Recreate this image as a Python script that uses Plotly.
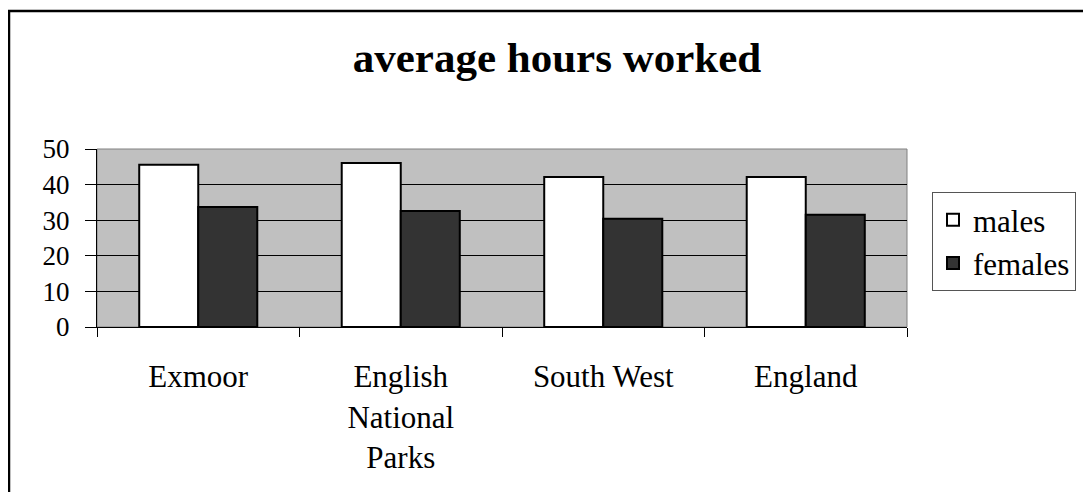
import plotly.graph_objects as go

# data
regions = ["Exmoor", "English National Parks", "South West", "England"]
region_labels = ["Exmoor", "English<br>National<br>Parks", "South West", "England"]
males = [45.6, 46.1, 42.1, 42.1]
females = [33.7, 32.6, 30.4, 31.5]
y_ticks = [0, 10, 20, 30, 40, 50]

# the page puts the figure 8px in from the top-left corner
OFF = 8
W, H = 1091 - OFF, 492 - OFF
L, R, T, B = 97 - OFF, 907 - OFF, 149 - OFF, 327 - OFF   # plot area in pixels


def px_x(p):
    return (p - OFF - L) / (R - L)


def px_y(p):
    return (B - (p - OFF)) / (B - T)


serif = "Liberation Serif"

fig = go.Figure()
fig.add_trace(go.Bar(x=regions, y=males, name="males",
                     marker=dict(color="white", line=dict(color="black", width=2))))
fig.add_trace(go.Bar(x=regions, y=females, name="females",
                     marker=dict(color="#333333", line=dict(color="black", width=2))))

fig.update_layout(
    width=W, height=H,
    margin=dict(l=L, r=W - R, t=T, b=H - B, pad=0),
    paper_bgcolor="white",
    plot_bgcolor="#c0c0c0",
    barmode="group",
    bargap=0.417,
    bargroupgap=0,
    font=dict(family=serif, color="black"),
    title=dict(text="<b>average hours worked</b>", x=(557 - OFF) / W, xref="container",
               xanchor="center", y=1 - (57 - OFF) / H, yref="container", yanchor="middle",
               font=dict(family=serif, size=43, color="black")),
    legend=dict(x=px_x(932), y=px_y(192), xanchor="left", yanchor="top",
                bordercolor="#555555", borderwidth=1, bgcolor="white",
                font=dict(family=serif, size=31), tracegroupgap=0),
    showlegend=True,
)

fig.update_xaxes(
    tickvals=regions, ticktext=region_labels,
    tickson="boundaries", ticks="outside", ticklen=9, tickcolor="black",
    showline=True, linecolor="black", linewidth=1,
    tickfont=dict(family=serif, size=31), ticklabelstandoff=22,
    showgrid=False,
)
fig.update_yaxes(
    range=[0, 50], tickvals=y_ticks,
    ticks="outside", ticklen=11, tickcolor="black",
    showline=True, linecolor="black", linewidth=1,
    showgrid=True, gridcolor="black", gridwidth=1,
    tickfont=dict(family=serif, size=27), ticklabelstandoff=10,
    zeroline=False,
)

# grey frame of the plot area (top and right)
fig.add_shape(type="rect", xref="paper", yref="paper", x0=0, x1=1, y0=0, y1=1,
              line=dict(color="#808080", width=1), layer="below")
# outer chart border, running off the right and bottom edges
fig.add_shape(type="rect", xref="paper", yref="paper",
              x0=px_x(9), x1=px_x(1091 + 10), y0=px_y(492 + 10), y1=px_y(11),
              line=dict(color="black", width=2.5))

fig.write_html("out.html")
